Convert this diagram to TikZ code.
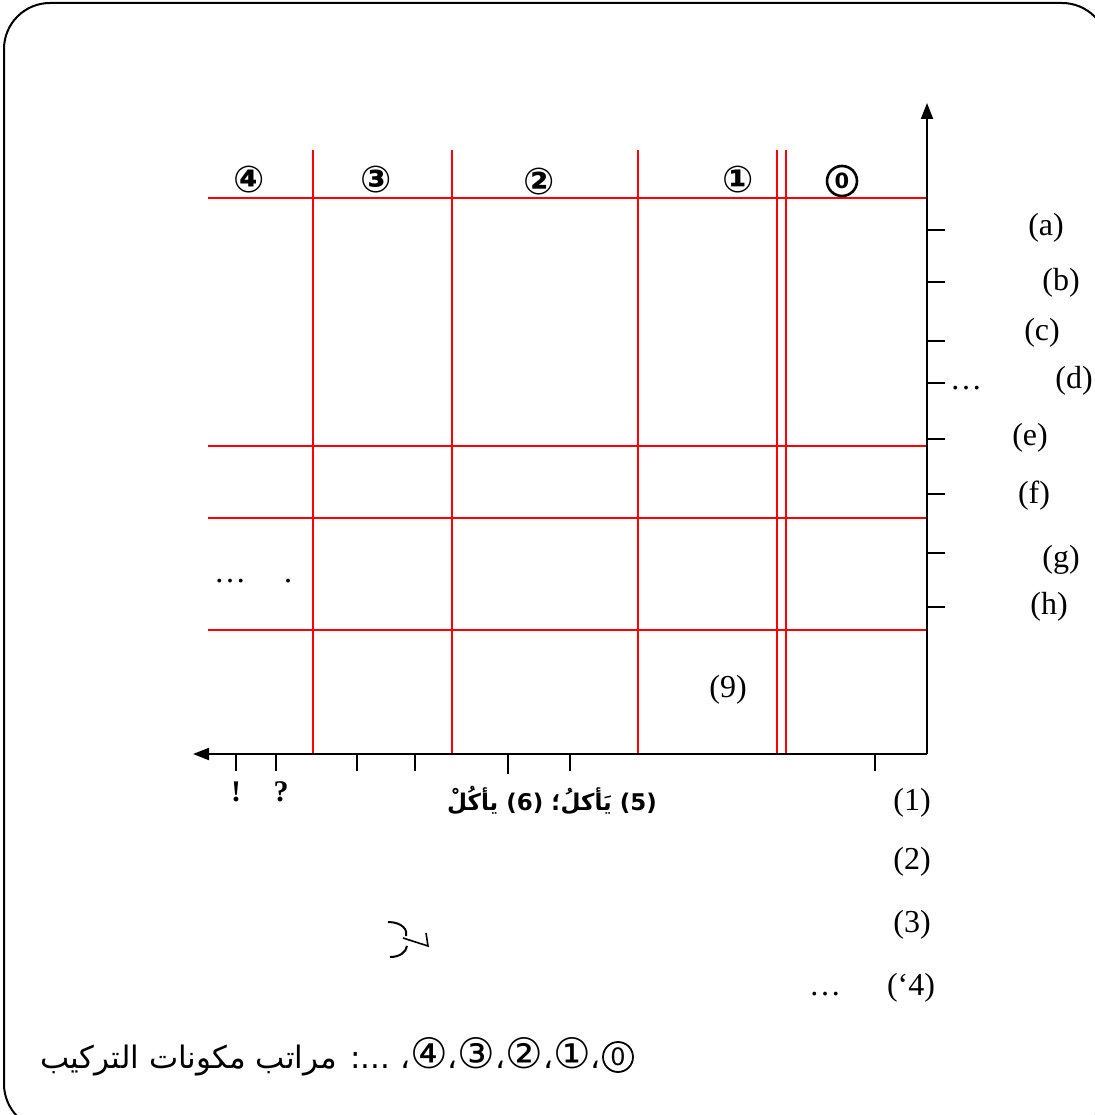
\documentclass[tikz,border=0pt]{standalone}
\usepackage{fontspec}
\setmainfont{Liberation Serif}
\newfontfamily\arabicfont[Script=Arabic]{DejaVu Sans}
\newfontfamily\circfont{DejaVu Sans}
\TeXXeTstate=1
\usetikzlibrary{arrows.meta, positioning}
\newcommand\legdigit[1]{{\fontsize{42}{44}\selectfont #1}}

\begin{document}
\begin{tikzpicture}[x=1pt, y=-1pt,
    every node/.style={font=\fontsize{32}{36}\selectfont, inner sep=0pt},
    axisline/.style={line width=2pt, -{Triangle[length=16pt, width=12pt]}},
    tickmark/.style={line width=1.5pt},
    redline/.style={red, line width=1.6pt},
    rank/.style={font=\circfont\bfseries\fontsize{37}{40}\selectfont},
    zerorank/.style={circle, draw, line width=2.6pt, minimum size=30pt, inner sep=0pt,
                     font=\circfont\bfseries\fontsize{21}{22}\selectfont},
    zerolegend/.style={circle, draw, line width=1.8pt, minimum size=30pt, inner sep=0pt,
                       font=\circfont\fontsize{24}{26}\selectfont},
    punct/.style={font=\bfseries\fontsize{30}{34}\selectfont},
    frame/.style={line width=2pt, rounded corners=46pt},
  ]
    \useasboundingbox (0,0) rectangle (1094,1115);
    % outer frame (runs off the page on the right and bottom)
    \draw[frame] (4,3) rectangle (1108,1130);

    % red grid of the ranks
    \foreach \y in {198,446,518,630}
      \draw[redline] (208,\y) -- (927,\y);
    \foreach \x in {313,452,638,777,786}
      \draw[redline] (\x,150) -- (\x,754);

    % axes
    \coordinate (origin) at (927,754);
    \coordinate (ytip) at (927,103);
    \coordinate (xtip) at (193,754);
    \draw[axisline] (origin) -- (ytip);
    \draw[axisline] (origin) -- (xtip);

    % tick marks
    \foreach \y in {230,282,341,383,439,494,553,607}
      \draw[tickmark] (927,\y) -- ++(18,0);
    \foreach \x in {236,276,357,415,570,875}
      \draw[tickmark] (\x,754) -- ++(0,17);
    \draw[tickmark] (508,754) -- ++(0,20);

    % ranks on top
    \node[rank] (r4) at (249,180) {④};
    \node[rank] (r3) at (376,180) {③};
    \node[rank] (r2) at (539,182) {②};
    \node[rank] (r1) at (738,180) {①};
    \node[zerorank] (r0) at (842,181) {0};

    % labels right of the vertical axis
    \node (la) at (1046,228) {(a)};
    \node (lb) at (1061,283) {(b)};
    \node (lc) at (1042,333) {(c)};
    \node (ldots) at (966,388) {\dots};
    \node (ld) at (1074,381) {(d)};
    \node (le) at (1030,438) {(e)};
    \node (lf) at (1034,496) {(f)};
    \node (lg) at (1061,560) {(g)};
    \node (lh) at (1049,607) {(h)};

    % inside the grid
    \node (gdots) at (230,581) {\dots};
    \node (gdot) at (288,581) {.};
    \node (n9) at (728,690) {(9)};

    % below the horizontal axis
    \node[punct] (excl) at (236,792) {!};
    \node[punct] (quest) at (281,792) {?};
    \node[font=\arabicfont\bfseries\fontsize{23}{28}\selectfont] (verbs) at (552,800)
      {\beginR (5) يَأكلُ؛ (6) يأكُلْ\endR};

    % numbered lines
    \node (n1) at (912,803) {(1)};
    \node (n2) at (912,862) {(2)};
    \node (n3) at (912,925) {(3)};
    \node (n4) at (911,988) {(‘4)};
    \node (n4dots) at (825,994) {\dots};

    % stray glyph
    \draw[line width=2pt] (388,922) .. controls (402,922) and (408,930) .. (406,936);
    \draw[line width=2pt] (390,957) .. controls (400,957) and (406,952) .. (407,946);
    \draw[line width=1.6pt] (403,938) -- (428,946) -- (426,933);

    % legend
    \node[zerolegend] (lz) at (618,1057) {0};
    \node[font=\arabicfont\fontsize{31}{36}\selectfont, left=1pt of lz] (legend)
      {\beginR ،\legdigit{①}،\legdigit{②}،\legdigit{③}،\legdigit{④}، ...: مراتب مكونات التركيب\endR};
\end{tikzpicture}
\end{document}
